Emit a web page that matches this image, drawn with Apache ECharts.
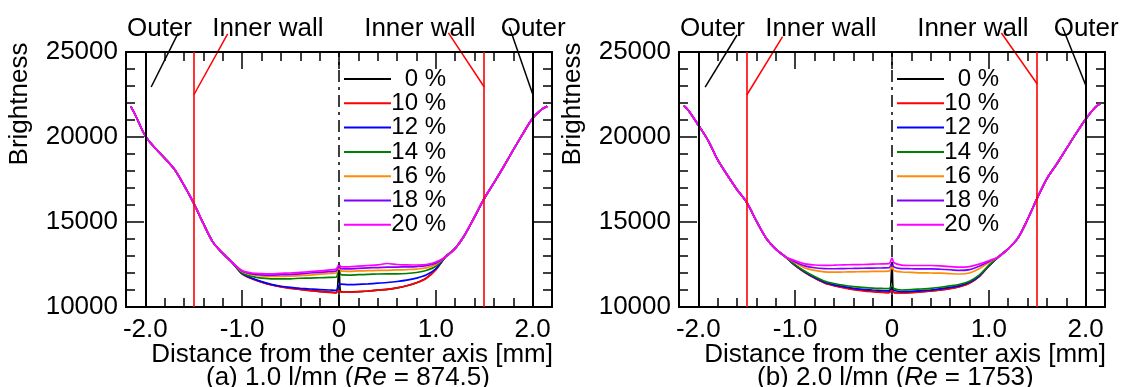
<!DOCTYPE html>
<html><head><meta charset="utf-8">
<script src="https://cdn.jsdelivr.net/npm/echarts@6/dist/echarts.min.js"></script>
<style>html,body{margin:0;padding:0;background:#fff}#c{width:1125px;height:387px}</style>
</head><body><div id="c"></div>
<script>
// ---------------- data ----------------
const seriesNames = ['0 %', '10 %', '12 %', '14 %', '16 %', '18 %', '20 %'];
const seriesColors = ['#000000', '#ff0000', '#0000ff', '#008000', '#ff8c00', '#8000ff', '#ff00ff'];

const xLeftBranch = [-2.15, -2.1, -2.0, -1.9, -1.8, -1.7, -1.6, -1.5, -1.4, -1.3, -1.2, -1.1];
const xMiddle = [-1.0, -0.9, -0.8, -0.7, -0.6, -0.5, -0.4, -0.3, -0.2, -0.1, -0.03, 0, 0.02, 0.1, 0.2, 0.3, 0.4, 0.5, 0.6, 0.7, 0.8, 0.9, 1.0];
const xRightBranch = [1.1, 1.2, 1.3, 1.4, 1.5, 1.6, 1.7, 1.8, 1.9, 2.0, 2.1, 2.15];

// panel (a) 1.0 l/mn
const aLeftBranch = [21800, 21250, 20050, 19350, 18750, 18100, 17150, 16100, 14900, 13800, 13150, 12600];
const aRightBranch = [12950, 13450, 14250, 15300, 16380, 17300, 18250, 19240, 20200, 21100, 21650, 21800];
const a00 = [11950, 11680, 11470, 11310, 11190, 11110, 11040, 10980, 10920, 10880, 10850, 12450, 10900, 10880, 10900, 10940, 10990, 11040, 11120, 11250, 11430, 11700, 12200];
const a10 = [11950, 11660, 11460, 11300, 11180, 11100, 11030, 10960, 10900, 10860, 10830, 11000, 10880, 10870, 10900, 10940, 10990, 11040, 11120, 11250, 11420, 11680, 12200];
const a12 = [11960, 11690, 11490, 11330, 11220, 11150, 11100, 11060, 11020, 11000, 10980, 11300, 11350, 11320, 11330, 11360, 11400, 11440, 11500, 11580, 11700, 11880, 12250];
const a14 = [12000, 11800, 11700, 11660, 11650, 11660, 11690, 11700, 11720, 11740, 11750, 12200, 11900, 11880, 11900, 11920, 11940, 11950, 11950, 11970, 12030, 12150, 12400];
const a16 = [12080, 11900, 11830, 11800, 11800, 11820, 11850, 11880, 11930, 11970, 12000, 12300, 12120, 12100, 12120, 12140, 12150, 12160, 12180, 12200, 12230, 12300, 12500];
const a18 = [12120, 11950, 11890, 11880, 11900, 11920, 11950, 12000, 12040, 12080, 12120, 12400, 12250, 12240, 12270, 12300, 12320, 12340, 12350, 12360, 12380, 12430, 12580];
const a20 = [12150, 12000, 11960, 11950, 11980, 12000, 12040, 12080, 12120, 12180, 12230, 12500, 12380, 12360, 12400, 12440, 12480, 12560, 12500, 12480, 12470, 12500, 12650];

// panel (b) 2.0 l/mn
const bLeftBranch = [21850, 21550, 20700, 19800, 18650, 17750, 16900, 16150, 15050, 14050, 13400, 12950];
const bRightBranch = [12950, 13420, 14050, 15150, 16400, 17550, 18400, 19300, 20200, 21050, 21750, 21950];
const b00 = [12450, 12050, 11720, 11440, 11270, 11150, 11050, 10980, 10920, 10880, 10860, 12500, 10860, 10840, 10860, 10900, 10950, 11010, 11090, 11210, 11410, 11800, 12420];
const b10 = [12440, 12030, 11700, 11420, 11250, 11130, 11020, 10950, 10900, 10860, 10840, 11000, 10850, 10830, 10850, 10890, 10940, 11000, 11080, 11200, 11400, 11790, 12410];
const b12 = [12450, 12060, 11730, 11460, 11300, 11200, 11100, 11040, 11000, 10970, 10950, 11150, 10980, 10900, 10920, 10960, 11000, 11070, 11150, 11260, 11450, 11820, 12420];
const b14 = [12480, 12100, 11790, 11530, 11380, 11280, 11200, 11150, 11110, 11090, 11080, 11250, 11080, 11000, 11020, 11060, 11100, 11160, 11240, 11340, 11520, 11870, 12450];
const b16 = [12600, 12300, 12150, 12070, 12050, 12060, 12070, 12080, 12090, 12100, 12110, 12350, 12150, 12060, 12040, 12010, 12000, 11990, 11960, 11940, 12000, 12250, 12620];
const b18 = [12650, 12420, 12310, 12260, 12250, 12260, 12270, 12280, 12290, 12300, 12310, 12600, 12350, 12260, 12250, 12240, 12240, 12220, 12190, 12150, 12200, 12400, 12670];
const b20 = [12720, 12540, 12470, 12450, 12460, 12480, 12490, 12500, 12520, 12540, 12550, 12880, 12600, 12460, 12440, 12440, 12440, 12420, 12380, 12340, 12380, 12520, 12720];

const xTickLabels = [-2, -1, 0, 1, 2];
const wallOuter = [-2.0, 2.0];
const wallInner = [-1.5, 1.5];
const centerAxis = [0];

const panelSubtitles = [['(a) 1.0 l/mn (', '874.5)'], ['(b) 2.0 l/mn (', '1753)']];
const annoTexts = [['Outer', -2.19], ['Inner wall', -1.31], ['Inner wall', 0.26], ['Outer', 1.67]];
const annoTextY = 26350;
// leader lines [x1, y1, x2, y2, colour-kind] per panel
const leadersA = [[-1.66, 26120, -1.94, 22940, 'k'], [-1.15, 26060, -1.5, 22470, 'r'], [1.13, 26120, 1.5, 22940, 'r'], [1.76, 26470, 2.0, 22530, 'k']];
const leadersB = [[-1.60, 26000, -1.93, 22940, 'k'], [-1.13, 25900, -1.5, 22470, 'r'], [1.13, 26120, 1.5, 23120, 'r'], [1.76, 26470, 2.0, 23060, 'k']];

// ---------------- layout ----------------
const FONT = "'Liberation Sans', Arial, sans-serif";
const FS = 26;
const LFS = 24;
const gridLefts = [126, 679];
const gridTop = 52, gridW = 426, gridH = 255;
const subtitleX = [206, 757];

const panels = [
  { lb: aLeftBranch, rb: aRightBranch, mids: [a00, a10, a12, a14, a16, a18, a20], leaders: leadersA },
  { lb: bLeftBranch, rb: bRightBranch, mids: [b00, b10, b12, b14, b16, b18, b20], leaders: leadersB }
];

const xs = xLeftBranch.concat(xMiddle, xRightBranch);

const grids = [], xAxes = [], yAxes = [], series = [], legends = [];
panels.forEach((p, g) => {
  grids.push({ left: gridLefts[g], top: gridTop, width: gridW, height: gridH, containLabel: false });
  const baseX = { type: 'value', gridIndex: g, min: -2.2, max: 2.2, interval: 0.2,
    splitLine: { show: false }, axisLine: { onZero: false, show: false, lineStyle: { color: '#000', width: 2 } } };
  xAxes.push(Object.assign({}, baseX, { position: 'bottom',
    axisLine: { onZero: false, show: true, lineStyle: { color: '#000', width: 2 } },
    axisTick: { show: true, inside: true, length: 9, lineStyle: { color: '#000', width: 1.5 } },
    axisLabel: { show: true, customValues: xTickLabels, margin: 10, color: '#000', fontSize: FS, fontFamily: FONT,
      formatter: v => (Math.abs(v) < 1e-9 ? '0' : v.toFixed(1)) } }));
  xAxes.push(Object.assign({}, baseX, { position: 'bottom',
    axisTick: { show: true, inside: true, length: 17, customValues: xTickLabels, lineStyle: { color: '#000', width: 1.5 } },
    axisLabel: { show: false } }));
  xAxes.push(Object.assign({}, baseX, { position: 'top',
    axisLine: { onZero: false, show: true, lineStyle: { color: '#000', width: 2 } },
    axisTick: { show: true, inside: true, length: 9, lineStyle: { color: '#000', width: 1.5 } },
    axisLabel: { show: false } }));
  xAxes.push(Object.assign({}, baseX, { position: 'top',
    axisTick: { show: true, inside: true, length: 17, customValues: xTickLabels, lineStyle: { color: '#000', width: 1.5 } },
    axisLabel: { show: false } }));

  const baseY = { type: 'value', gridIndex: g, min: 10000, max: 25000, interval: 5000,
    splitLine: { show: false },
    axisLine: { onZero: false, show: true, lineStyle: { color: '#000', width: 2 } },
    axisTick: { show: true, inside: true, length: 18, lineStyle: { color: '#000', width: 1.5 } },
    minorTick: { show: true, splitNumber: 5, length: 9, lineStyle: { color: '#000', width: 1.5 } } };
  yAxes.push(Object.assign({}, baseY, { position: 'left',
    axisLabel: { show: true, margin: 8, color: '#000', fontSize: FS, fontFamily: FONT, formatter: v => String(v) } }));
  yAxes.push(Object.assign({}, baseY, { position: 'right', axisLabel: { show: false } }));

  seriesNames.forEach((name, i) => {
    const ys = p.lb.concat(p.mids[i], p.rb);
    const s = {
      type: 'line', name: name, xAxisIndex: 4 * g, yAxisIndex: 2 * g,
      data: xs.map((x, k) => [x, ys[k]]),
      symbol: 'none', showSymbol: false, silent: true, animation: false,
      smooth: 0.3,
      lineStyle: { color: seriesColors[i], width: 1.7 }, itemStyle: { color: seriesColors[i] }
    };
    if (i === 0) {
      s.markLine = {
        silent: true, symbol: 'none', animation: false, label: { show: false },
        data: [
          ...wallOuter.map(v => ({ xAxis: v, lineStyle: { color: '#000', width: 2, type: 'solid' } })),
          ...wallInner.map(v => ({ xAxis: v, lineStyle: { color: '#ff0000', width: 1.6, type: 'solid' } })),
          ...centerAxis.map(v => ({ xAxis: v, lineStyle: { color: '#000', width: 1.5, type: [12, 5, 3, 5] } }))
        ]
      };
    }
    series.push(s);
  });

  legends.push({
    data: seriesNames, orient: 'vertical', left: gridLefts[g] + 213, top: 62,
    icon: 'rect', itemWidth: 47, itemHeight: 2, itemGap: 0.3, selectedMode: false,
    formatter: n => '{r|' + n + '}',
    textStyle: { color: '#000', fontSize: LFS, fontFamily: FONT, lineHeight: 24,
      rich: { r: { width: 50, align: 'right', fontSize: LFS, fontFamily: FONT, lineHeight: 24, color: '#000' } } }
  });
});

const chart = echarts.init(document.getElementById('c'), null, { renderer: 'canvas' });
chart.setOption({
  animation: false, backgroundColor: '#fff',
  grid: grids, xAxis: xAxes, yAxis: yAxes, series: series, legend: legends
});

// ---------------- annotation graphics ----------------
const graphics = [];
panels.forEach((p, g) => {
  const finder = { seriesIndex: 7 * g };
  const px = (x, y) => chart.convertToPixel(finder, [x, y]);
  annoTexts.forEach(([t, x]) => {
    const pt = px(x, annoTextY);
    graphics.push({ type: 'text', x: pt[0], y: pt[1], silent: true,
      style: { text: t, fill: '#000', font: FS + 'px ' + FONT, textAlign: 'left', textVerticalAlign: 'middle' } });
  });
  p.leaders.forEach(([x1, y1, x2, y2, c]) => {
    const a = px(x1, y1), b = px(x2, y2);
    graphics.push({ type: 'line', silent: true,
      shape: { x1: a[0], y1: a[1], x2: b[0], y2: b[1] },
      style: { stroke: c === 'r' ? '#ff0000' : '#000', lineWidth: 1.5 } });
  });
  const L = gridLefts[g];
  graphics.push({ type: 'text', x: L + gridW + 1, y: 355, silent: true,
    style: { text: 'Distance from the center axis [mm]', fill: '#000', font: FS + 'px ' + FONT, textAlign: 'right', textVerticalAlign: 'middle' } });
  graphics.push({ type: 'text', x: subtitleX[g], y: 378, silent: true,
    style: { text: panelSubtitles[g][0] + '{i|Re} = ' + panelSubtitles[g][1], fill: '#000', font: FS + 'px ' + FONT,
      textAlign: 'left', textVerticalAlign: 'middle',
      rich: { i: { fontStyle: 'italic', fontSize: FS, fontFamily: FONT, fill: '#000' } } } });
  graphics.push({ type: 'text', x: L - 106, y: gridTop + 52, rotation: Math.PI / 2, silent: true,
    style: { text: 'Brightness', fill: '#000', font: FS + 'px ' + FONT, textAlign: 'center', textVerticalAlign: 'middle' } });
});
chart.setOption({ graphic: graphics });
</script>
</body></html>
